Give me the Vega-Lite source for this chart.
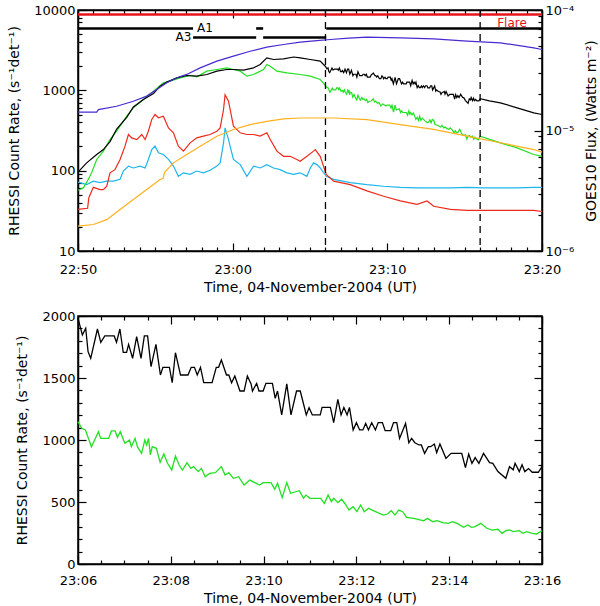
{
"$schema":"https://vega.github.io/schema/vega-lite/v6.json",
"padding":{"left":6,"top":3,"right":0,"bottom":0},
"autosize":{"type":"pad"},
"spacing":14,
"config":{
 "font":"DejaVu Sans",
 "view":{"stroke":"black","strokeWidth":1.5},
 "axis":{"labelFont":"DejaVu Sans","labelFontSize":13,"labelColor":"#000","titleFont":"DejaVu Sans","titleFontSize":14,"titleFontWeight":"normal","titleColor":"#000","tickColor":"#000","domainColor":"#000","domainWidth":1.5,"tickWidth":1.2,"grid":false,"labelOverlap":false,"labelBound":false,"labelFlush":false}
},
"datasets":{
 "rhessi":[
 {"series":"cyan","min":0,"rate":72},{"series":"cyan","min":0.56,"rate":67},{"series":"cyan","min":0.99,"rate":74},{"series":"cyan","min":1.42,"rate":71},{"series":"cyan","min":1.86,"rate":74},{"series":"cyan","min":2.29,"rate":74},{"series":"cyan","min":2.72,"rate":78},{"series":"cyan","min":2.93,"rate":99},{"series":"cyan","min":3.26,"rate":114},{"series":"cyan","min":3.58,"rate":108},{"series":"cyan","min":4.01,"rate":114},{"series":"cyan","min":4.34,"rate":108},{"series":"cyan","min":4.55,"rate":138},{"series":"cyan","min":4.77,"rate":183},{"series":"cyan","min":4.98,"rate":202},{"series":"cyan","min":5.2,"rate":167},{"series":"cyan","min":5.52,"rate":159},{"series":"cyan","min":5.85,"rate":138},{"series":"cyan","min":6.17,"rate":114},{"series":"cyan","min":6.49,"rate":85},{"series":"cyan","min":6.82,"rate":94},{"series":"cyan","min":7.25,"rate":90},{"series":"cyan","min":7.68,"rate":99},{"series":"cyan","min":8.11,"rate":94},{"series":"cyan","min":8.54,"rate":101},{"series":"cyan","min":8.98,"rate":114},{"series":"cyan","min":9.19,"rate":125},{"series":"cyan","min":9.41,"rate":222},{"series":"cyan","min":9.51,"rate":341},{"series":"cyan","min":9.73,"rate":244},{"series":"cyan","min":10.05,"rate":138},{"series":"cyan","min":10.49,"rate":119},{"series":"cyan","min":10.92,"rate":85},{"series":"cyan","min":11.35,"rate":114},{"series":"cyan","min":11.78,"rate":108},{"series":"cyan","min":12.21,"rate":119},{"series":"cyan","min":12.64,"rate":108},{"series":"cyan","min":13.07,"rate":103},{"series":"cyan","min":13.51,"rate":94},{"series":"cyan","min":13.94,"rate":90},{"series":"cyan","min":14.37,"rate":94},{"series":"cyan","min":14.8,"rate":85},{"series":"cyan","min":15.02,"rate":108},{"series":"cyan","min":15.23,"rate":125},{"series":"cyan","min":15.45,"rate":119},{"series":"cyan","min":15.66,"rate":108},{"series":"cyan","min":16.05,"rate":85},{"series":"cyan","min":16.53,"rate":78},{"series":"cyan","min":17.6,"rate":71},{"series":"cyan","min":18.68,"rate":67},{"series":"cyan","min":19.76,"rate":64},{"series":"cyan","min":20.84,"rate":62},{"series":"cyan","min":21.92,"rate":61},{"series":"cyan","min":23,"rate":61},{"series":"cyan","min":24.08,"rate":61},{"series":"cyan","min":25.16,"rate":62},{"series":"cyan","min":26.23,"rate":61},{"series":"cyan","min":27.31,"rate":61},{"series":"cyan","min":28.39,"rate":61},{"series":"cyan","min":29.47,"rate":62},{"series":"cyan","min":30,"rate":62},
 {"series":"red","min":0,"rate":33},{"series":"red","min":0.62,"rate":34},{"series":"red","min":0.7,"rate":46},{"series":"red","min":0.99,"rate":62},{"series":"red","min":1.42,"rate":58},{"series":"red","min":1.64,"rate":58},{"series":"red","min":1.86,"rate":64},{"series":"red","min":2.07,"rate":94},{"series":"red","min":2.39,"rate":103},{"series":"red","min":2.72,"rate":138},{"series":"red","min":3.04,"rate":202},{"series":"red","min":3.26,"rate":282},{"series":"red","min":3.47,"rate":256},{"series":"red","min":3.8,"rate":244},{"series":"red","min":4.12,"rate":282},{"series":"red","min":4.34,"rate":244},{"series":"red","min":4.55,"rate":310},{"series":"red","min":4.77,"rate":434},{"series":"red","min":4.98,"rate":500},{"series":"red","min":5.2,"rate":455},{"series":"red","min":5.52,"rate":477},{"series":"red","min":5.85,"rate":341},{"series":"red","min":6.17,"rate":296},{"series":"red","min":6.49,"rate":202},{"series":"red","min":6.82,"rate":175},{"series":"red","min":7.25,"rate":222},{"series":"red","min":7.68,"rate":256},{"series":"red","min":8.11,"rate":269},{"series":"red","min":8.54,"rate":282},{"series":"red","min":8.98,"rate":310},{"series":"red","min":9.19,"rate":341},{"series":"red","min":9.41,"rate":577},{"series":"red","min":9.51,"rate":880},{"series":"red","min":9.73,"rate":733},{"series":"red","min":10.05,"rate":358},{"series":"red","min":10.49,"rate":296},{"series":"red","min":10.92,"rate":282},{"series":"red","min":11.35,"rate":282},{"series":"red","min":11.78,"rate":269},{"series":"red","min":12.21,"rate":296},{"series":"red","min":12.43,"rate":244},{"series":"red","min":12.86,"rate":175},{"series":"red","min":13.29,"rate":151},{"series":"red","min":13.72,"rate":151},{"series":"red","min":14.15,"rate":138},{"series":"red","min":14.37,"rate":131},{"series":"red","min":14.8,"rate":151},{"series":"red","min":15.23,"rate":175},{"series":"red","min":15.34,"rate":183},{"series":"red","min":15.66,"rate":151},{"series":"red","min":16.05,"rate":90},{"series":"red","min":16.53,"rate":74},{"series":"red","min":17.6,"rate":67},{"series":"red","min":18.68,"rate":56},{"series":"red","min":19.76,"rate":48},{"series":"red","min":20.84,"rate":42},{"series":"red","min":21.92,"rate":38},{"series":"red","min":22.57,"rate":42},{"series":"red","min":23,"rate":36},{"series":"red","min":24.08,"rate":33},{"series":"red","min":25.16,"rate":32},{"series":"red","min":26.23,"rate":32},{"series":"red","min":27.31,"rate":32},{"series":"red","min":28.39,"rate":32},{"series":"red","min":29.47,"rate":32},{"series":"red","min":30,"rate":31},
 {"series":"green","min":0,"rate":57},{"series":"green","min":0.35,"rate":61},{"series":"green","min":0.67,"rate":78},{"series":"green","min":0.88,"rate":94},{"series":"green","min":1.21,"rate":138},{"series":"green","min":1.64,"rate":175},{"series":"green","min":2.07,"rate":244},{"series":"green","min":2.5,"rate":310},{"series":"green","min":3.15,"rate":477},{"series":"green","min":3.58,"rate":605},{"series":"green","min":4.23,"rate":769},{"series":"green","min":4.88,"rate":977},{"series":"green","min":5.52,"rate":1240},{"series":"green","min":5.95,"rate":1300},{"series":"green","min":6.6,"rate":1431},{"series":"green","min":7.25,"rate":1530},{"series":"green","min":7.68,"rate":1472},{"series":"green","min":8.33,"rate":1732},{"series":"green","min":8.98,"rate":1817},{"series":"green","min":9.62,"rate":1906},{"series":"green","min":10.05,"rate":1817},{"series":"green","min":10.49,"rate":1732},{"series":"green","min":10.92,"rate":1500},{"series":"green","min":11.35,"rate":1574},{"series":"green","min":12,"rate":1817},{"series":"green","min":12.21,"rate":2097},{"series":"green","min":12.43,"rate":2000},{"series":"green","min":12.86,"rate":1732},{"series":"green","min":13.51,"rate":1651},{"series":"green","min":14.37,"rate":1574},{"series":"green","min":15.02,"rate":1500},{"series":"green","min":15.66,"rate":1364},
 {"series":"green","min":16,"rate":1148},{"series":"green","min":16.08,"rate":1094},{"series":"green","min":16.16,"rate":1081},{"series":"green","min":16.29,"rate":946},{"series":"green","min":16.44,"rate":1067},{"series":"green","min":16.49,"rate":1013},{"series":"green","min":16.66,"rate":1013},{"series":"green","min":16.72,"rate":1073},{"series":"green","min":16.8,"rate":1073},{"series":"green","min":16.85,"rate":1022},{"series":"green","min":16.91,"rate":1067},{"series":"green","min":17.01,"rate":973},{"series":"green","min":17.11,"rate":1000},{"series":"green","min":17.15,"rate":946},{"series":"green","min":17.23,"rate":1013},{"series":"green","min":17.28,"rate":946},{"series":"green","min":17.37,"rate":892},{"series":"green","min":17.44,"rate":1000},{"series":"green","min":17.48,"rate":960},{"series":"green","min":17.52,"rate":1013},{"series":"green","min":17.56,"rate":880},{"series":"green","min":17.6,"rate":946},{"series":"green","min":17.69,"rate":933},{"series":"green","min":17.77,"rate":820},{"series":"green","min":17.85,"rate":887},{"series":"green","min":17.93,"rate":812},{"series":"green","min":18.02,"rate":758},{"series":"green","min":18.1,"rate":871},{"series":"green","min":18.18,"rate":798},{"series":"green","min":18.25,"rate":758},{"series":"green","min":18.35,"rate":817},{"series":"green","min":18.43,"rate":772},{"series":"green","min":18.49,"rate":785},{"series":"green","min":18.59,"rate":745},{"series":"green","min":18.66,"rate":772},{"series":"green","min":18.74,"rate":704},{"series":"green","min":18.84,"rate":731},{"series":"green","min":18.96,"rate":737},{"series":"green","min":19.09,"rate":785},{"series":"green","min":19.17,"rate":718},{"series":"green","min":19.25,"rate":737},{"series":"green","min":19.35,"rate":691},{"series":"green","min":19.46,"rate":704},{"series":"green","min":19.58,"rate":637},{"series":"green","min":19.7,"rate":677},{"series":"green","min":19.81,"rate":656},{"series":"green","min":19.91,"rate":637},{"series":"green","min":19.99,"rate":656},{"series":"green","min":20.16,"rate":656},{"series":"green","min":20.24,"rate":602},{"series":"green","min":20.3,"rate":651},{"series":"green","min":20.4,"rate":535},{"series":"green","min":20.5,"rate":656},{"series":"green","min":20.58,"rate":570},{"series":"green","min":20.77,"rate":591},{"series":"green","min":20.86,"rate":530},{"series":"green","min":20.91,"rate":556},{"series":"green","min":21,"rate":530},{"series":"green","min":21.23,"rate":530},{"series":"green","min":21.31,"rate":489},{"series":"green","min":21.39,"rate":556},{"series":"green","min":21.46,"rate":503},{"series":"green","min":21.51,"rate":530},{"series":"green","min":21.6,"rate":495},{"series":"green","min":21.68,"rate":522},{"series":"green","min":21.76,"rate":484},{"series":"green","min":21.84,"rate":435},{"series":"green","min":21.93,"rate":462},{"series":"green","min":22.01,"rate":422},{"series":"green","min":22.09,"rate":476},{"series":"green","min":22.17,"rate":422},{"series":"green","min":22.26,"rate":449},{"series":"green","min":22.34,"rate":435},{"series":"green","min":22.46,"rate":414},{"series":"green","min":22.58,"rate":395},{"series":"green","min":22.67,"rate":403},{"series":"green","min":22.75,"rate":430},{"series":"green","min":22.83,"rate":395},{"series":"green","min":22.91,"rate":435},{"series":"green","min":23,"rate":422},{"series":"green","min":23.08,"rate":376},{"series":"green","min":23.24,"rate":368},{"series":"green","min":23.37,"rate":355},{"series":"green","min":23.45,"rate":349},{"series":"green","min":23.53,"rate":368},{"series":"green","min":23.65,"rate":341},{"series":"green","min":23.74,"rate":349},{"series":"green","min":23.86,"rate":333},{"series":"green","min":23.98,"rate":328},{"series":"green","min":24.07,"rate":341},{"series":"green","min":24.19,"rate":323},{"series":"green","min":24.31,"rate":296},{"series":"green","min":24.4,"rate":315},{"series":"green","min":24.48,"rate":296},{"series":"green","min":24.56,"rate":301},{"series":"green","min":24.68,"rate":328},{"series":"green","min":24.81,"rate":288},{"series":"green","min":24.93,"rate":274},{"series":"green","min":25.05,"rate":280},{"series":"green","min":25.14,"rate":247},{"series":"green","min":25.22,"rate":269},{"series":"green","min":25.3,"rate":274},{"series":"green","min":25.38,"rate":261},{"series":"green","min":25.51,"rate":269},{"series":"green","min":25.59,"rate":247},{"series":"green","min":25.67,"rate":261},{"series":"green","min":25.79,"rate":247},{"series":"green","min":25.88,"rate":242},{"series":"green","min":26,"rate":269},
 {"series":"green","min":27.31,"rate":222},{"series":"green","min":28.39,"rate":192},{"series":"green","min":29.47,"rate":159},{"series":"green","min":30,"rate":151},
 {"series":"black","min":0,"rate":96},{"series":"black","min":0.56,"rate":125},{"series":"black","min":1.21,"rate":159},{"series":"black","min":1.64,"rate":183},{"series":"black","min":2.07,"rate":230},{"series":"black","min":2.5,"rate":330},{"series":"black","min":3.15,"rate":460},{"series":"black","min":3.58,"rate":620},{"series":"black","min":4.23,"rate":769},{"series":"black","min":4.88,"rate":914},{"series":"black","min":5.31,"rate":1127},{"series":"black","min":5.74,"rate":1264},{"series":"black","min":6.39,"rate":1431},{"series":"black","min":7.03,"rate":1530},{"series":"black","min":7.68,"rate":1500},{"series":"black","min":8.33,"rate":1574},{"series":"black","min":8.98,"rate":1732},{"series":"black","min":9.62,"rate":1817},{"series":"black","min":10.05,"rate":1817},{"series":"black","min":10.7,"rate":1782},{"series":"black","min":11.35,"rate":1906},{"series":"black","min":11.78,"rate":2097},{"series":"black","min":12.21,"rate":2541},{"series":"black","min":12.64,"rate":2421},{"series":"black","min":13.29,"rate":2470},{"series":"black","min":13.94,"rate":2600},{"series":"black","min":14.37,"rate":2541},{"series":"black","min":15.02,"rate":2421},{"series":"black","min":15.66,"rate":2307},
 {"series":"black","min":16,"rate":1981},{"series":"black","min":16.094,"rate":1847},{"series":"black","min":16.166,"rate":1901},{"series":"black","min":16.217,"rate":1712},{"series":"black","min":16.274,"rate":1659},{"series":"black","min":16.419,"rate":1895},{"series":"black","min":16.491,"rate":1788},{"series":"black","min":16.578,"rate":1839},{"series":"black","min":16.78,"rate":1839},{"series":"black","min":16.83,"rate":1788},{"series":"black","min":16.903,"rate":1895},{"series":"black","min":16.975,"rate":1707},{"series":"black","min":17.047,"rate":1707},{"series":"black","min":17.09,"rate":1771},{"series":"black","min":17.177,"rate":1659},{"series":"black","min":17.264,"rate":1833},{"series":"black","min":17.358,"rate":1659},{"series":"black","min":17.43,"rate":1839},{"series":"black","min":17.5,"rate":1839},{"series":"black","min":17.574,"rate":1591},{"series":"black","min":17.68,"rate":1771},{"series":"black","min":17.776,"rate":1524},{"series":"black","min":17.83,"rate":1586},{"series":"black","min":17.97,"rate":1586},{"series":"black","min":18.03,"rate":1462},{"series":"black","min":18.1,"rate":1704},{"series":"black","min":18.21,"rate":1524},{"series":"black","min":18.37,"rate":1524},{"series":"black","min":18.44,"rate":1586},{"series":"black","min":18.51,"rate":1586},{"series":"black","min":18.57,"rate":1524},{"series":"black","min":18.64,"rate":1586},{"series":"black","min":18.71,"rate":1462},{"series":"black","min":18.89,"rate":1462},{"series":"black","min":18.98,"rate":1586},{"series":"black","min":19.03,"rate":1586},{"series":"black","min":19.09,"rate":1645},{"series":"black","min":19.2,"rate":1524},{"series":"black","min":19.25,"rate":1524},{"series":"black","min":19.31,"rate":1462},{"series":"black","min":19.38,"rate":1516},{"series":"black","min":19.49,"rate":1395},{"series":"black","min":19.58,"rate":1395},{"series":"black","min":19.65,"rate":1516},{"series":"black","min":19.73,"rate":1452},{"series":"black","min":19.76,"rate":1395},{"series":"black","min":19.85,"rate":1457},{"series":"black","min":19.9,"rate":1395},{"series":"black","min":19.99,"rate":1395},{"series":"black","min":20.05,"rate":1457},{"series":"black","min":20.19,"rate":1457},{"series":"black","min":20.25,"rate":1336},{"series":"black","min":20.3,"rate":1395},{"series":"black","min":20.39,"rate":1202},{"series":"black","min":20.5,"rate":1452},{"series":"black","min":20.59,"rate":1202},{"series":"black","min":20.71,"rate":1395},{"series":"black","min":20.79,"rate":1395},{"series":"black","min":20.92,"rate":1202},{"series":"black","min":20.98,"rate":1261},{"series":"black","min":21.05,"rate":1202},{"series":"black","min":21.22,"rate":1202},{"series":"black","min":21.26,"rate":1263},{"series":"black","min":21.44,"rate":1263},{"series":"black","min":21.51,"rate":1140},{"series":"black","min":21.6,"rate":1328},{"series":"black","min":21.67,"rate":1202},{"series":"black","min":21.73,"rate":1263},{"series":"black","min":21.8,"rate":1202},{"series":"black","min":21.85,"rate":1263},{"series":"black","min":21.93,"rate":1081},{"series":"black","min":22,"rate":1140},{"series":"black","min":22.07,"rate":1081},{"series":"black","min":22.14,"rate":1081},{"series":"black","min":22.2,"rate":1134},{"series":"black","min":22.26,"rate":1081},{"series":"black","min":22.33,"rate":1140},{"series":"black","min":22.41,"rate":1081},{"series":"black","min":22.47,"rate":1140},{"series":"black","min":22.56,"rate":1140},{"series":"black","min":22.62,"rate":1075},{"series":"black","min":22.74,"rate":1075},{"series":"black","min":22.8,"rate":1140},{"series":"black","min":22.87,"rate":1140},{"series":"black","min":22.93,"rate":1013},{"series":"black","min":23.06,"rate":1134},{"series":"black","min":23.13,"rate":978},{"series":"black","min":23.19,"rate":1013},{"series":"black","min":23.26,"rate":978},{"series":"black","min":23.35,"rate":960},{"series":"black","min":23.4,"rate":960},{"series":"black","min":23.47,"rate":892},{"series":"black","min":23.55,"rate":946},{"series":"black","min":23.6,"rate":946},{"series":"black","min":23.68,"rate":968},{"series":"black","min":23.73,"rate":898},{"series":"black","min":23.8,"rate":968},{"series":"black","min":23.93,"rate":852},{"series":"black","min":24.04,"rate":892},{"series":"black","min":24.27,"rate":892},{"series":"black","min":24.35,"rate":777},{"series":"black","min":24.42,"rate":887},{"series":"black","min":24.49,"rate":812},{"series":"black","min":24.56,"rate":858},{"series":"black","min":24.64,"rate":812},{"series":"black","min":24.74,"rate":892},{"series":"black","min":24.87,"rate":817},{"series":"black","min":24.94,"rate":812},{"series":"black","min":25.05,"rate":745},{"series":"black","min":25.22,"rate":691},{"series":"black","min":25.3,"rate":785},{"series":"black","min":25.38,"rate":760},{"series":"black","min":25.42,"rate":812},{"series":"black","min":25.51,"rate":745},{"series":"black","min":25.57,"rate":800},{"series":"black","min":25.63,"rate":745},{"series":"black","min":25.71,"rate":770},{"series":"black","min":25.79,"rate":740},{"series":"black","min":25.92,"rate":740},{"series":"black","min":26,"rate":785},
 {"series":"black","min":26.6,"rate":740},{"series":"black","min":27.31,"rate":699},{"series":"black","min":28.39,"rate":605},{"series":"black","min":29.47,"rate":525},{"series":"black","min":30,"rate":500}
 ],
 "goes":[
 {"channel":"1-8 Å","min":0,"flux":1.42e-5},{"channel":"1-8 Å","min":1.21,"flux":1.42e-5},{"channel":"1-8 Å","min":1.32,"flux":1.49e-5},{"channel":"1-8 Å","min":2.5,"flux":1.59e-5},{"channel":"1-8 Å","min":3.58,"flux":1.75e-5},{"channel":"1-8 Å","min":4.44,"flux":1.93e-5},{"channel":"1-8 Å","min":5.09,"flux":2.19e-5},{"channel":"1-8 Å","min":5.74,"flux":2.49e-5},{"channel":"1-8 Å","min":6.39,"flux":2.74e-5},{"channel":"1-8 Å","min":7.03,"flux":2.92e-5},{"channel":"1-8 Å","min":7.9,"flux":3.31e-5},{"channel":"1-8 Å","min":8.98,"flux":3.76e-5},{"channel":"1-8 Å","min":10.05,"flux":4.14e-5},{"channel":"1-8 Å","min":11.13,"flux":4.55e-5},{"channel":"1-8 Å","min":12.21,"flux":4.92e-5},{"channel":"1-8 Å","min":13.29,"flux":5.17e-5},{"channel":"1-8 Å","min":14.37,"flux":5.41e-5},{"channel":"1-8 Å","min":15.45,"flux":5.58e-5},{"channel":"1-8 Å","min":16.31,"flux":5.69e-5},{"channel":"1-8 Å","min":17.5,"flux":5.85e-5},{"channel":"1-8 Å","min":18.68,"flux":5.95e-5},{"channel":"1-8 Å","min":20.84,"flux":5.87e-5},{"channel":"1-8 Å","min":23,"flux":5.76e-5},{"channel":"1-8 Å","min":25.16,"flux":5.51e-5},{"channel":"1-8 Å","min":27.31,"flux":5.34e-5},{"channel":"1-8 Å","min":29.47,"flux":4.85e-5},{"channel":"1-8 Å","min":30,"flux":4.7e-5},
 {"channel":"0.5-4 Å","min":0,"flux":1.61e-6},{"channel":"0.5-4 Å","min":0.99,"flux":1.66e-6},{"channel":"0.5-4 Å","min":1.86,"flux":1.82e-6},{"channel":"0.5-4 Å","min":2.72,"flux":2.21e-6},{"channel":"0.5-4 Å","min":3.58,"flux":2.67e-6},{"channel":"0.5-4 Å","min":4.44,"flux":3.24e-6},{"channel":"0.5-4 Å","min":5.31,"flux":3.92e-6},{"channel":"0.5-4 Å","min":5.5,"flux":4.0e-6},{"channel":"0.5-4 Å","min":5.6,"flux":4.5e-6},{"channel":"0.5-4 Å","min":6.17,"flux":5.39e-6},{"channel":"0.5-4 Å","min":7.03,"flux":6.32e-6},{"channel":"0.5-4 Å","min":7.9,"flux":7.41e-6},{"channel":"0.5-4 Å","min":8.98,"flux":8.97e-6},{"channel":"0.5-4 Å","min":10.05,"flux":1.02e-5},{"channel":"0.5-4 Å","min":11.13,"flux":1.12e-5},{"channel":"0.5-4 Å","min":12.21,"flux":1.19e-5},{"channel":"0.5-4 Å","min":13.29,"flux":1.25e-5},{"channel":"0.5-4 Å","min":14.37,"flux":1.27e-5},{"channel":"0.5-4 Å","min":15.45,"flux":1.27e-5},{"channel":"0.5-4 Å","min":16.53,"flux":1.27e-5},{"channel":"0.5-4 Å","min":18.68,"flux":1.23e-5},{"channel":"0.5-4 Å","min":20.84,"flux":1.12e-5},{"channel":"0.5-4 Å","min":23,"flux":1.02e-5},{"channel":"0.5-4 Å","min":25.16,"flux":8.97e-6},{"channel":"0.5-4 Å","min":27.31,"flux":7.91e-6},{"channel":"0.5-4 Å","min":29.47,"flux":6.95e-6},{"channel":"0.5-4 Å","min":30,"flux":6.61e-6}
 ],
 "bars":[
 {"state":"Flare","min":0,"end":30,"rate":8790},
 {"state":"A1","min":0,"end":7.44,"rate":5890},
 {"state":"A3","min":7.44,"end":11.52,"rate":4550},
 {"state":"A1","min":11.52,"end":11.97,"rate":5890},
 {"state":"A3","min":11.97,"end":16.05,"rate":4550},
 {"state":"A1","min":16.05,"end":30,"rate":5890}
 ],
 "events":[{"min":16},{"min":26}],
 "labels":[
 {"text":"A1","min":7.7,"rate":5970},
 {"text":"A3","min":6.3,"rate":4610},
 {"text":"Flare","min":27.1,"rate":6890}
 ]
},
"vconcat":[
 {
  "width":464,"height":241,
  "layer":[
   {"encoding":{
     "x":{"field":"min","type":"quantitative","scale":{"domain":[0,30],"nice":false,"zero":false},
      "axis":{"orient":"bottom","title":"Time, 04-November-2004 (UT)","labelOverlap":false,"values":[0,1,2,3,4,5,6,7,8,9,10,11,12,13,14,15,16,17,18,19,20,21,22,23,24,25,26,27,28,29,30],
       "labelExpr":"datum.value % 10 === 0 ? timeFormat(datetime(2004,10,4,22,50+datum.value), '%H:%M') : ''",
       "tickSize":{"condition":{"test":"datum.value % 10 === 0","value":-8},"value":-4},"labelPadding":20,"titlePadding":0}}},
    "layer":[
    {"data":{"name":"rhessi"},
     "mark":{"type":"line","strokeWidth":1.2},
     "encoding":{
      "y":{"field":"rate","type":"quantitative","scale":{"type":"log","domain":[10,10000],"nice":false},
       "axis":{"orient":"left","title":"RHESSI Count Rate, (s⁻¹det⁻¹)","labelOverlap":false,"values":[10,20,30,40,50,60,70,80,90,100,200,300,400,500,600,700,800,900,1000,2000,3000,4000,5000,6000,7000,8000,9000,10000],
        "labelExpr":"(datum.value === 10 || datum.value === 100 || datum.value === 1000 || datum.value === 10000) ? format(datum.value, 'd') : ''",
        "tickSize":{"condition":{"test":"datum.value === 10 || datum.value === 100 || datum.value === 1000 || datum.value === 10000","value":-8},"value":-4},"labelPadding":11,"titlePadding":12}},
      "color":{"field":"series","type":"nominal","scale":{"domain":["cyan","red","green","black"],"range":["#1cb6ec","#ec2a1c","#22e022","#000000"]},"legend":null}
     }},
    {"data":{"name":"bars"},"transform":[{"filter":"datum.state === 'Flare'"}],
     "mark":{"type":"rule","color":"#e8141c","strokeWidth":2.6},
     "encoding":{"x2":{"field":"end"},"y":{"field":"rate","type":"quantitative"}}},
    {"data":{"name":"bars"},"transform":[{"filter":"datum.state !== 'Flare'"}],
     "mark":{"type":"rule","color":"#000000","strokeWidth":2.6},
     "encoding":{"x2":{"field":"end"},"y":{"field":"rate","type":"quantitative"}}},
    {"data":{"name":"events"},
     "mark":{"type":"rule","color":"#000000","strokeWidth":1.3,"strokeDash":[7,5]},
     "encoding":{}},
    {"data":{"name":"labels"},
     "mark":{"type":"text","align":"left","baseline":"middle","fontSize":12,"font":"DejaVu Sans"},
     "encoding":{"y":{"field":"rate","type":"quantitative"},"text":{"field":"text"},
      "color":{"condition":{"test":"datum.text === 'Flare'","value":"#e8141c"},"value":"#000000"}}}
   ]},
   {"data":{"name":"goes"},
    "mark":{"type":"line","strokeWidth":1.2},
    "encoding":{
     "x":{"field":"min","type":"quantitative","scale":{"domain":[0,30],"nice":false,"zero":false},
      "axis":{"orient":"top","title":null,"labels":false,"values":[0,1,2,3,4,5,6,7,8,9,10,11,12,13,14,15,16,17,18,19,20,21,22,23,24,25,26,27,28,29,30],
       "tickSize":{"condition":{"test":"datum.value % 10 === 0","value":-8},"value":-4}}},
     "y":{"field":"flux","type":"quantitative","scale":{"type":"log","domain":[0.000001,0.0001],"nice":false},
      "axis":{"orient":"right","title":"GOES10 Flux, (Watts m⁻²)","labelOverlap":false,"titleAngle":-90,"titleBaseline":"top","values":[0.000001,0.000002,0.000003,0.000004,0.000005,0.000006,0.000007,0.000008,0.000009,0.00001,0.00002,0.00003,0.00004,0.00005,0.00006,0.00007,0.00008,0.00009,0.0001],
       "labelExpr":"datum.value === 0.000001 ? '10⁻⁶' : datum.value === 0.00001 ? '10⁻⁵' : datum.value === 0.0001 ? '10⁻⁴' : ''",
       "tickSize":{"condition":{"test":"datum.value === 0.000001 || datum.value === 0.00001 || datum.value === 0.0001","value":-8},"value":-4},"labelPadding":11,"titlePadding":11}},
     "color":{"field":"channel","type":"nominal","scale":{"domain":["1-8 Å","0.5-4 Å"],"range":["#4a2ad0","#ffb01e"]},"legend":null}
    }}
  ],
  "resolve":{"scale":{"y":"independent","color":"independent"},"axis":{"x":"independent"}}
 },
 {
  "width":464,"height":248,
  "data":{"name":"rhessi"},
  "transform":[{"filter":"datum.min >= 16 && datum.min <= 26 && (datum.series === 'black' || datum.series === 'green')"}],
  "layer":[
   {"transform":[{"filter":"datum.series === 'black'"}],
    "mark":{"type":"line","color":"#000000","strokeWidth":1.3},
    "encoding":{
     "x":{"field":"min","type":"quantitative","scale":{"domain":[16,26],"nice":false,"zero":false},
      "axis":{"orient":"bottom","title":"Time, 04-November-2004 (UT)","labelOverlap":false,"values":[16,16.5,17,17.5,18,18.5,19,19.5,20,20.5,21,21.5,22,22.5,23,23.5,24,24.5,25,25.5,26],
       "labelExpr":"datum.value % 2 === 0 ? timeFormat(datetime(2004,10,4,22,50+datum.value), '%H:%M') : ''",
       "tickSize":{"condition":{"test":"datum.value % 2 === 0","value":-8},"value":-4},"labelPadding":18,"titlePadding":0}},
     "y":{"field":"rate","type":"quantitative","scale":{"domain":[0,2000],"nice":false},
      "axis":{"orient":"left","title":"RHESSI Count Rate, (s⁻¹det⁻¹)","labelOverlap":false,"values":[0,100,200,300,400,500,600,700,800,900,1000,1100,1200,1300,1400,1500,1600,1700,1800,1900,2000],
       "labelExpr":"datum.value % 500 === 0 ? format(datum.value, 'd') : ''",
       "tickSize":{"condition":{"test":"datum.value % 500 === 0","value":-8},"value":-4},"labelPadding":11,"titlePadding":12}}
    }},
   {"transform":[{"filter":"datum.series === 'green'"}],
    "mark":{"type":"line","color":"#22e022","strokeWidth":1.3},
    "encoding":{
     "x":{"field":"min","type":"quantitative","scale":{"domain":[16,26],"nice":false,"zero":false},
      "axis":{"orient":"top","title":null,"labels":false,"values":[16,16.5,17,17.5,18,18.5,19,19.5,20,20.5,21,21.5,22,22.5,23,23.5,24,24.5,25,25.5,26],
       "tickSize":{"condition":{"test":"datum.value % 2 === 0","value":-8},"value":-4}}},
     "y":{"field":"rate","type":"quantitative","scale":{"domain":[0,2000],"nice":false},
      "axis":{"orient":"right","title":null,"labels":false,"values":[0,100,200,300,400,500,600,700,800,900,1000,1100,1200,1300,1400,1500,1600,1700,1800,1900,2000],
       "tickSize":{"condition":{"test":"datum.value % 500 === 0","value":-8},"value":-4}}}
    }}
  ],
  "resolve":{"axis":{"x":"independent","y":"independent"}}
 }
]
}
